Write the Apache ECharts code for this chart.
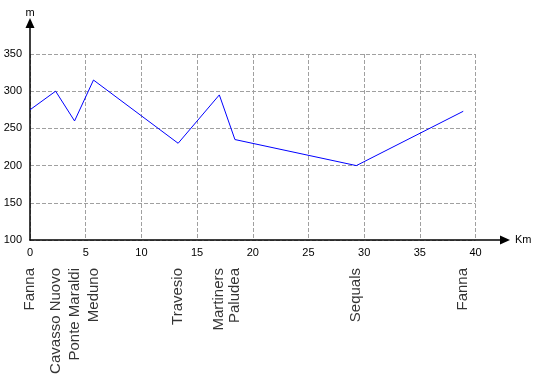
<!DOCTYPE html>
<html><head><meta charset="utf-8">
<script src="https://cdn.jsdelivr.net/npm/echarts@6/dist/echarts.min.js"></script>
<style>html,body{margin:0;padding:0;background:#fff}#c{width:546px;height:377px}</style>
</head><body><div id="c"></div>
<script>
const places = ['Fanna','Cavasso Nuovo','Ponte Maraldi','Meduno','Travesio','Martiners','Paludea','Sequals','Fanna'];
const distanceKm = [0, 2.3, 4.0, 5.7, 13.3, 17.0, 18.4, 29.3, 38.9];
const elevationM = [275, 300, 260, 315, 230, 295, 235, 200, 273];
const xTickLabels = [0, 5, 10, 15, 20, 25, 30, 35, 40];
const yTickLabels = [100, 150, 200, 250, 300, 350];

const FONT = 'Liberation Sans, Arial, sans-serif';
const xMin = xTickLabels[0], xMax = xTickLabels[xTickLabels.length-1];
const yMin = yTickLabels[0], yMax = yTickLabels[yTickLabels.length-1];
const gridLine = {show:true, lineStyle:{color:'#a0a0a0', type:[4,2], width:1}};

const chart = echarts.init(document.getElementById('c'), null, {renderer:'canvas'});
chart.setOption({
  animation:false,
  grid:[
    {left:30, right:70.5, top:54, bottom:137},
    {left:30, right:41, top:23, bottom:137}
  ],
  xAxis:[
    {type:'value', gridIndex:0, min:xMin, max:xMax, interval:xTickLabels[1]-xTickLabels[0],
     axisLine:{show:false}, axisTick:{show:false}, splitLine:gridLine,
     axisLabel:{color:'#000', fontFamily:FONT, fontSize:11, margin:7}},
    {type:'value', gridIndex:1, min:0, max:1,
     axisLine:{show:true, onZero:false, lineStyle:{color:'#000', width:1.5}, symbol:['none','triangle'], symbolSize:[9,10]},
     axisTick:{show:false}, axisLabel:{show:false}, splitLine:{show:false},
     name:'Km', nameLocation:'end', nameGap:10, nameTextStyle:{color:'#000', fontFamily:FONT, fontSize:11}}
  ],
  yAxis:[
    {type:'value', gridIndex:0, min:yMin, max:yMax, interval:yTickLabels[1]-yTickLabels[0],
     axisLine:{show:false}, axisTick:{show:false}, splitLine:gridLine,
     axisLabel:{color:'#000', fontFamily:FONT, fontSize:11, margin:8}},
    {type:'value', gridIndex:1, min:0, max:1,
     axisLine:{show:true, onZero:false, lineStyle:{color:'#000', width:1.5}, symbol:['none','triangle'], symbolSize:[9,10]},
     axisTick:{show:false}, axisLabel:{show:false}, splitLine:{show:false},
     name:'m', nameLocation:'end', nameGap:5, nameTextStyle:{color:'#000', fontFamily:FONT, fontSize:11}}
  ],
  series:[
    {type:'line', xAxisIndex:0, yAxisIndex:0, symbol:'none', silent:true,
     lineStyle:{color:'#0000ff', width:1},
     data: distanceKm.map((d,i)=>[d, elevationM[i]])},
    {type:'scatter', xAxisIndex:0, yAxisIndex:0, symbolSize:0, clip:false, silent:true,
     data: places.map((p,i)=>({name:p, value:[distanceKm[i], yMin]})),
     label:{show:true, formatter:'{b}', rotate:90, position:'bottom', distance:28,
            align:'right', verticalAlign:'middle', color:'#000', fontFamily:FONT, fontSize:15}}
  ]
});
</script></body></html>
